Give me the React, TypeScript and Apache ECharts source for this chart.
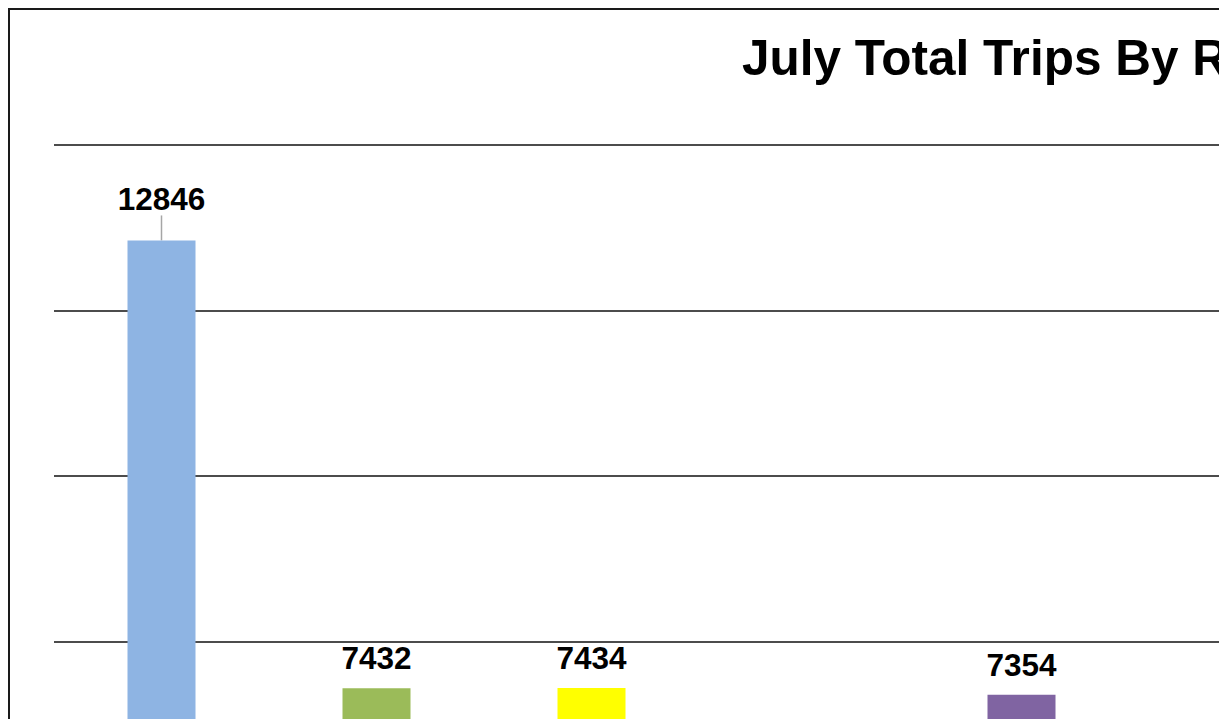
import React, { useEffect, useRef } from "react";
import * as echarts from "echarts";

// Categories (axis labels fall outside the visible crop)
const categories = ["Route 1", "Route 2", "Route 3", "Route 4", "Route 5", "Route 6"];
// Trip totals; Route 4 and Route 6 bars sit below the visible area (estimated)
const tripValues = [12846, 7432, 7434, 6000, 7354, 6000];
const barColors = ["#8EB4E3", "#9BBB59", "#FFFF00", "#4BACC6", "#8064A2", "#F79646"];
const yTicks = { min: 0, max: 14000, interval: 2000 };
const titleText = "July Total Trips By Route";

export default function App() {
  const ref = useRef<HTMLDivElement>(null);
  useEffect(() => {
    if (!ref.current) return;
    const chart = echarts.init(ref.current, undefined, { renderer: "svg" });
    chart.setOption({
      animation: false,
      backgroundColor: "#ffffff",
      title: {
        text: titleText,
        left: 727,
        top: 17,
        textStyle: {
          fontFamily: "Liberation Sans, Arial, sans-serif",
          fontWeight: "bold",
          fontSize: 49.5,
          color: "#000000",
        },
      },
      grid: { left: 44, top: 135, width: 215 * categories.length, height: 1158 },
      xAxis: {
        type: "category",
        data: categories,
        axisLine: { show: true, lineStyle: { color: "#000" } },
        axisTick: { show: false },
        axisLabel: { show: false },
      },
      yAxis: {
        type: "value",
        min: yTicks.min,
        max: yTicks.max,
        interval: yTicks.interval,
        axisLine: { show: false },
        axisTick: { show: false },
        axisLabel: { show: false },
        splitLine: { show: true, lineStyle: { color: "#111111", width: 1.5 } },
      },
      series: [
        {
          type: "bar",
          barWidth: 68,
          data: tripValues.map((v, i) => ({
            value: v,
            itemStyle: { color: barColors[i] },
            labelLine: { show: i === 0, lineStyle: { color: "#A6A6A6", width: 1.5 } },
          })),
          label: {
            show: true,
            position: "top",
            distance: 14,
            fontFamily: "Liberation Sans, Arial, sans-serif",
            fontWeight: "bold",
            fontSize: 31.5,
            color: "#000000",
          },
          labelLine: { show: false },
          labelLayout: (params: any) => (params.dataIndex === 0 ? { dy: -11 } : {}),
        },
      ],
    });
    return () => chart.dispose();
  }, []);
  return (
    <div
      style={{
        position: "fixed",
        left: 8,
        top: 8,
        width: 1211,
        height: 711,
        overflow: "hidden",
        boxSizing: "border-box",
        borderLeft: "2px solid #1a1a1a",
        borderTop: "2px solid #1a1a1a",
        background: "#fff",
      }}
    >
      <div ref={ref} style={{ width: 1500, height: 1380 }} />
    </div>
  );
}
